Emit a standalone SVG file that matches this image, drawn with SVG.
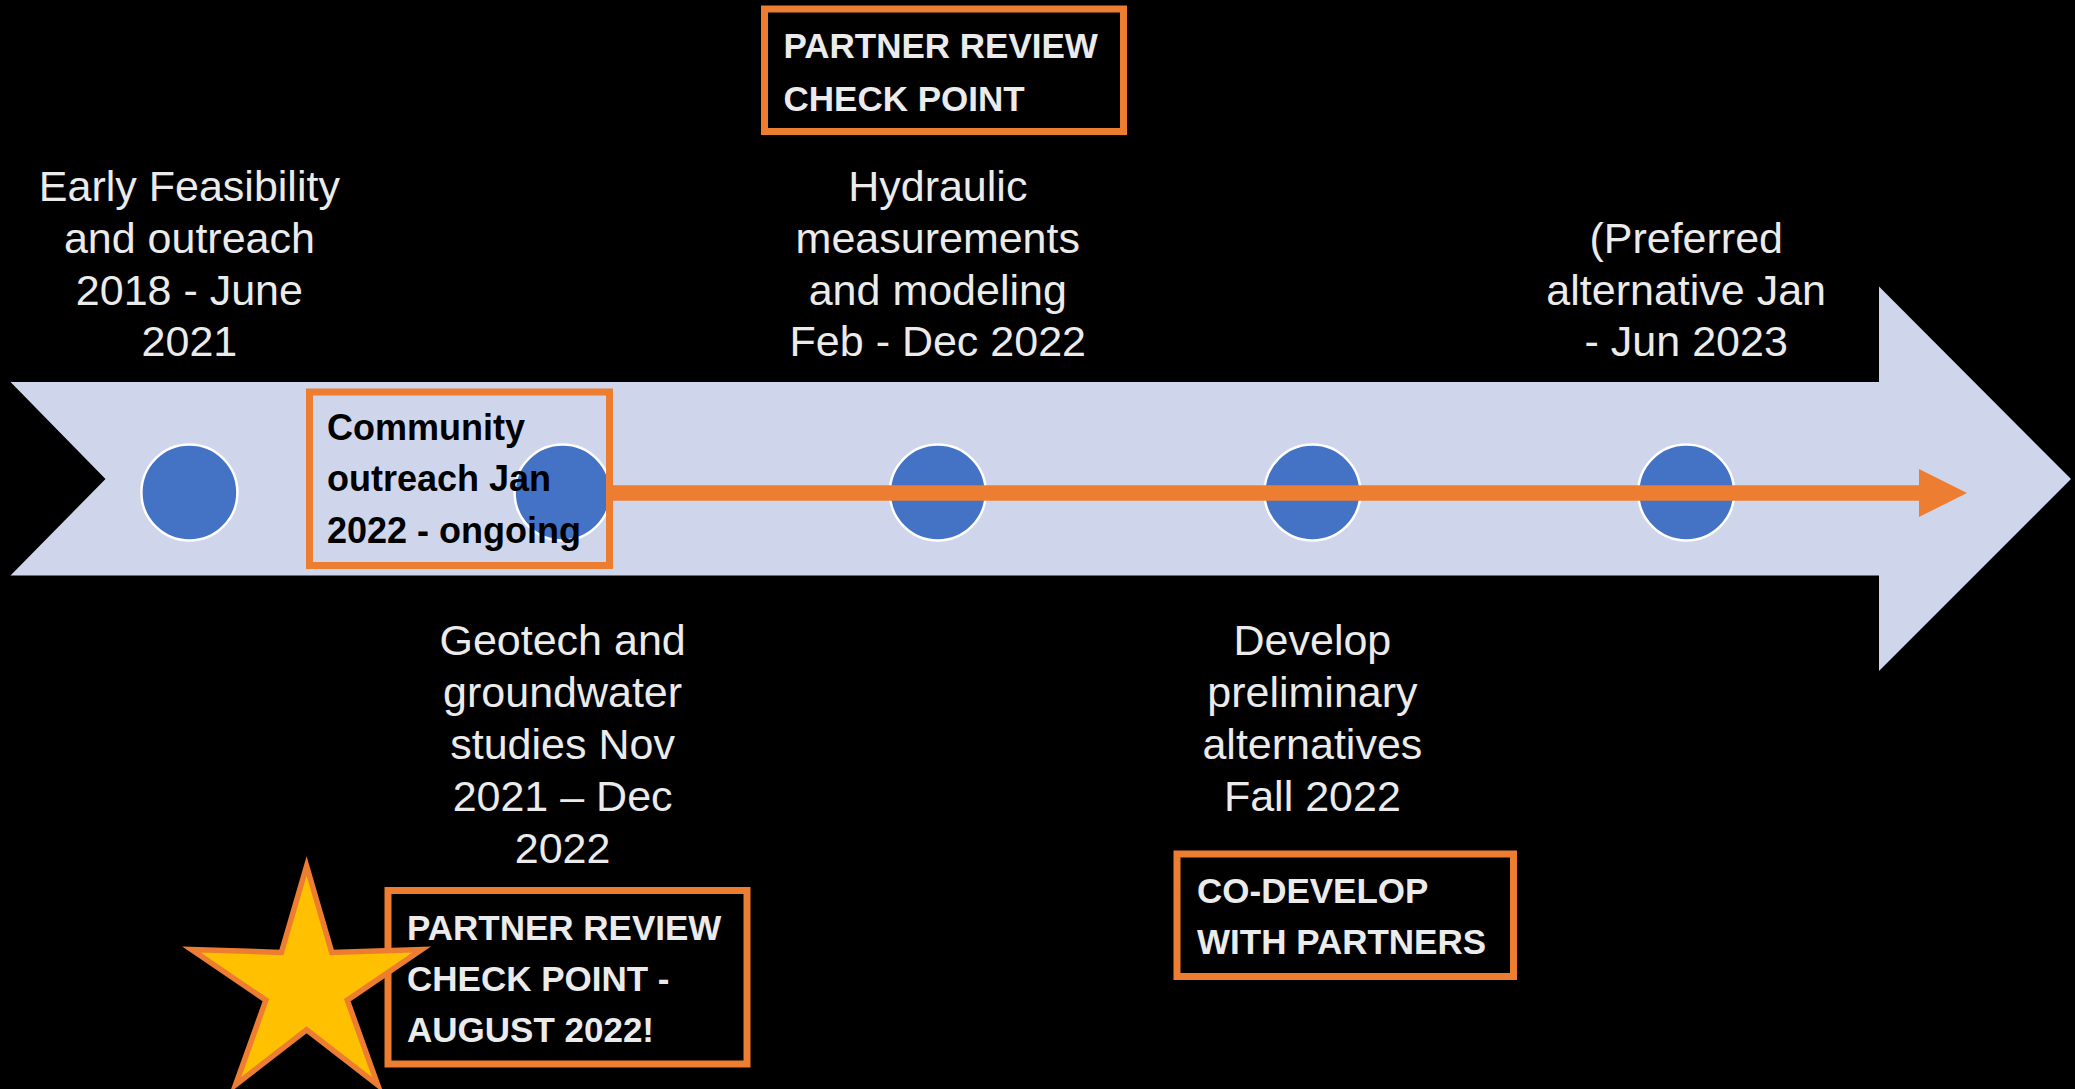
<svg xmlns="http://www.w3.org/2000/svg" width="2075" height="1089" viewBox="0 0 2075 1089">
<style>
  .lbl { font-family: "Liberation Sans", Arial, sans-serif; font-size: 43px; fill: #EBEBEB; text-anchor: middle; }
  .bold { font-family: "Liberation Sans", Arial, sans-serif; font-size: 35px; font-weight: bold; fill: #EBEBEB; }
  .dark { fill: #000000; font-size: 36px; }
  .box { fill: none; stroke: #ED7D31; stroke-width: 7; }
  .dot { fill: #4472C4; stroke: #FFFFFF; stroke-width: 2.5; }
</style>
<defs>
  <marker id="head" markerUnits="userSpaceOnUse" markerWidth="50" markerHeight="50" refX="0" refY="24" orient="auto">
    <path d="M0,0 L48,24 L0,48 Z" fill="#ED7D31"/>
  </marker>
</defs>
<rect x="0" y="0" width="2075" height="1089" fill="#000000"/>
<g id="timeline-band">
  <path d="M10.5,382 L1879,382 L1879,286.5 L2071,479 L1879,671 L1879,575.5 L10.5,575.5 L105.5,479 Z" fill="#CFD5EA"/>
</g>
<g id="milestone-1"><circle class="dot" cx="189.4" cy="492.5" r="48"/></g>
<g id="milestone-2"><circle class="dot" cx="562.6" cy="492.5" r="48"/></g>
<g id="milestone-3"><circle class="dot" cx="937.8" cy="492.5" r="48"/></g>
<g id="milestone-4"><circle class="dot" cx="1312.4" cy="492.5" r="48"/></g>
<g id="milestone-5"><circle class="dot" cx="1686.2" cy="492.5" r="48"/></g>
<g id="connectors">
  <line x1="606" y1="493" x2="1919" y2="493" stroke="#ED7D31" stroke-width="15.5" marker-end="url(#head)"/>
</g>
<g id="label-early">
  <text class="lbl" x="189.4" y="201">Early Feasibility</text>
  <text class="lbl" x="189.4" y="253">and outreach</text>
  <text class="lbl" x="189.4" y="305">2018 - June</text>
  <text class="lbl" x="189.4" y="356">2021</text>
</g>
<g id="label-hydraulic">
  <text class="lbl" x="937.8" y="201">Hydraulic</text>
  <text class="lbl" x="937.8" y="253">measurements</text>
  <text class="lbl" x="937.8" y="305">and modeling</text>
  <text class="lbl" x="937.8" y="356">Feb - Dec 2022</text>
</g>
<g id="label-preferred">
  <text class="lbl" x="1686.2" y="253">(Preferred</text>
  <text class="lbl" x="1686.2" y="305">alternative Jan</text>
  <text class="lbl" x="1686.2" y="356">- Jun 2023</text>
</g>
<g id="label-geotech">
  <text class="lbl" x="562.6" y="655">Geotech and</text>
  <text class="lbl" x="562.6" y="707">groundwater</text>
  <text class="lbl" x="562.6" y="759">studies Nov</text>
  <text class="lbl" x="562.6" y="811">2021 – Dec</text>
  <text class="lbl" x="562.6" y="863">2022</text>
</g>
<g id="label-develop">
  <text class="lbl" x="1312.4" y="655">Develop</text>
  <text class="lbl" x="1312.4" y="707">preliminary</text>
  <text class="lbl" x="1312.4" y="759">alternatives</text>
  <text class="lbl" x="1312.4" y="811">Fall 2022</text>
</g>
<g id="box-community">
  <rect class="box" x="309.5" y="392" width="300" height="173.5"/>
  <text class="bold dark" x="327" y="439.5">Community</text>
  <text class="bold dark" x="327" y="491">outreach Jan</text>
  <text class="bold dark" x="327" y="542.5">2022 - ongoing</text>
</g>
<g id="box-partner-top">
  <rect class="box" x="764.5" y="9" width="359" height="122.5"/>
  <text class="bold" x="783.5" y="58">PARTNER REVIEW</text>
  <text class="bold" x="783.5" y="111">CHECK POINT</text>
</g>
<g id="box-partner-bottom">
  <rect class="box" x="388" y="890.5" width="359" height="173.5"/>
  <text class="bold" x="407" y="939.5">PARTNER REVIEW</text>
  <text class="bold" x="407" y="991">CHECK POINT -</text>
  <text class="bold" x="407" y="1042">AUGUST 2022!</text>
</g>
<g id="box-codevelop">
  <rect class="box" x="1177" y="854" width="336.5" height="122.5"/>
  <text class="bold" x="1197" y="903">CO-DEVELOP</text>
  <text class="bold" x="1197" y="954">WITH PARTNERS</text>
</g>
<g id="star">
  <polygon points="306.6,866 331.8,952.4 421.7,949.6 347.3,1000.2 377.7,1084.9 306.6,1029.8 235.5,1084.9 265.9,1000.2 191.5,949.6 281.4,952.4" fill="#FFC000" stroke="#ED7D31" stroke-width="5.5" stroke-linejoin="miter"/>
</g>
</svg>
